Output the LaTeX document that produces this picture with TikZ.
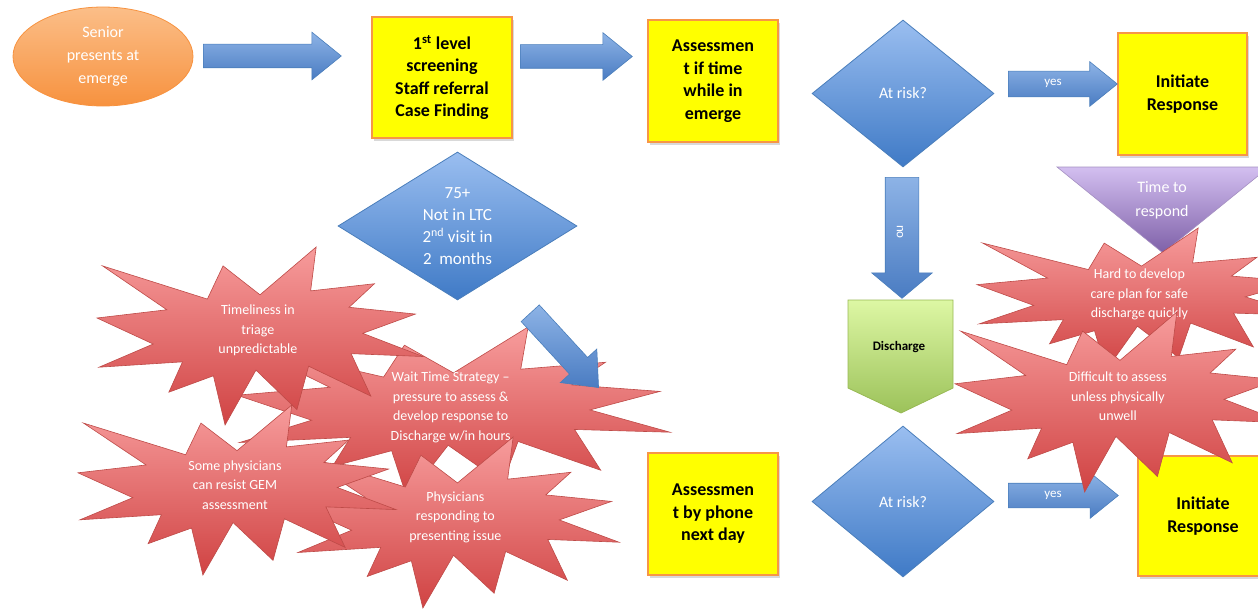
\documentclass[tikz,border=0pt]{standalone}
\usepackage{fontspec}
\setmainfont{Carlito}
\usetikzlibrary{shapes.geometric,shapes.arrows,shadows,calc}
\definecolor{boxorange}{HTML}{F79646}
\definecolor{boxyellow}{HTML}{FFFF00}
\definecolor{diatop}{HTML}{9ABEF0}
\definecolor{diabot}{HTML}{3F7AC6}
\definecolor{diaedge}{HTML}{4A7EBB}
\definecolor{arrtop}{HTML}{8DB3E6}
\definecolor{arrbot}{HTML}{4A7CC2}
\definecolor{ellTop}{HTML}{FBBE88}
\definecolor{ellBot}{HTML}{F7923F}
\definecolor{stTop}{HTML}{F79C9C}
\definecolor{stBot}{HTML}{D04343}
\definecolor{stEdge}{HTML}{BE4B48}
\definecolor{puTop}{HTML}{D3BFF0}
\definecolor{puBot}{HTML}{7E60A8}
\definecolor{grTop}{HTML}{DDF7A4}
\definecolor{grBot}{HTML}{9CC25A}
\definecolor{grEdge}{HTML}{98B954}
\newcommand\sealshape[6]{%
\begin{scope}[shift={(#2,#3)},xscale=#4/216,yscale=#5/216]
\path[seal] (108,58) -- (145.22,0) -- (141.55,53.25) -- (183.80,44.57) -- (167.02,73.15) -- (210.97,81.37) -- (176.07,104.75) -- (216,132.90) -- (168.37,129.42) -- (181.45,180.95) -- (140.20,144.57) -- (132.47,197.37) -- (105.32,149.35) -- (84.85,216) -- (77.15,156.27) -- (47.62,176.17) -- (56.67,139.37) -- (1.35,145.87) -- (37.22,117.75) -- (0,86.15) -- (46.27,76.17) -- (3.70,22.95) -- (73.12,63.20) -- (83.52,22.95) -- cycle;
\node[sealtext] (#1) at (106.6,101.3) {#6};
\end{scope}}
\begin{document}
\begin{tikzpicture}[x=1pt,y=-1pt,
  ybox/.style={draw=boxorange, line width=1.5pt, fill=boxyellow, align=center, inner sep=0pt,
    font=\fontsize{18}{22.5}\selectfont\bfseries,
    drop shadow={opacity=0.3, shadow xshift=2pt, shadow yshift=-3pt}},
  dia/.style={diamond, draw=diaedge, line width=0.8pt, top color=diatop, bottom color=diabot,
    text=white, align=center, inner sep=0pt, font=\fontsize{17}{22}\selectfont},
  barrow/.style={single arrow, anchor=tail, draw=diaedge, line width=0.6pt, top color=arrtop, bottom color=arrbot,
    inner xsep=0pt, minimum width=0pt},
  seal/.style={draw=stEdge, line width=0.6pt, top color=stTop, bottom color=stBot},
  sealtext/.style={text=white, align=center, inner sep=0pt, font=\fontsize{14}{19.5}\selectfont},
  wtext/.style={text=white, align=center, inner sep=0pt},
  alabel/.style={text=white, inner sep=0pt, font=\fontsize{13}{15}\selectfont}]
\useasboundingbox (0,0) rectangle (1258,610);
\clip (0,0) rectangle (1258,610);

% start
\node[ellipse, minimum width=180pt, minimum height=99pt, draw=ellBot, line width=0.8pt,
  top color=ellTop, bottom color=ellBot, text=white, align=center, inner sep=0pt,
  font=\fontsize{16}{23}\selectfont] (senior) at (103,56.5) {Senior\\presents at\\emerge};

% boxes
\node[ybox, minimum width=140pt, minimum height=121pt] (screen) at (442,77.5)
  {1\textsuperscript{st} level\\screening\\Staff referral\\Case Finding};
\node[ybox, minimum width=130pt, minimum height=122pt] (assess1) at (713,81)
  {Assessmen\\t if time\\while in\\emerge};
\node[ybox, minimum width=129pt, minimum height=122pt] (init1) at (1182.5,94)
  {Initiate\\Response};
\node[ybox, minimum width=130pt, minimum height=122pt] (assess2) at (713,514)
  {Assessmen\\t by phone\\next day};
\node[ybox, minimum width=130pt, minimum height=120pt] (init2) at (1203,516)
  {Initiate\\Response};

% diamonds
\node[dia, minimum width=182pt, minimum height=147pt, font=\fontsize{16}{20}\selectfont] (risk1) at (903,93.5) {At risk?};
\node[dia, minimum width=182pt, minimum height=151pt, font=\fontsize{16}{20}\selectfont] (risk2) at (903,501.5) {At risk?};
\node[dia, minimum width=239pt, minimum height=148pt] (crit) at (457.5,226)
  {75+\\Not in LTC\\2\textsuperscript{nd} visit in\\2\ \ months};

% time to respond (purple triangle)
\path[draw=puBot!70, line width=0.6pt, top color=puTop, bottom color=puBot]
  (1057,167) -- (1269,167) -- (1163,253) -- cycle;
\node[wtext, font=\fontsize{16}{24}\selectfont] (time) at (1162,200) {Time to\\respond};

% discharge (green pentagon)
\path[draw=grEdge, line width=0.8pt, top color=grTop, bottom color=grBot]
  (848,300) -- (953,300) -- (953,388) -- (901,413) -- (848,388) -- cycle;
\node[inner sep=0pt, font=\fontsize{13}{15}\selectfont\bfseries] (dis) at (899,347) {Discharge};

% block arrows
\node[barrow, minimum height=138pt, inner ysep=11.5pt, single arrow head extend=12pt,
  single arrow tip angle=78] (a1) at (203,56) {};
\node[barrow, minimum height=112pt, inner ysep=11.5pt, single arrow head extend=12pt,
  single arrow tip angle=78] (a2) at (520,56.5) {};
\node[barrow, minimum height=109pt, inner ysep=12.5pt, single arrow head extend=9.5pt,
  single arrow tip angle=78] (a3) at (1008,84) {};
\node[alabel] (yes1) at (1053,83) {yes};
\node[barrow, minimum height=110pt, inner ysep=12pt, single arrow head extend=10.5pt,
  single arrow tip angle=78] (a4) at (1008,495.5) {};
\node[alabel] (yes2) at (1053,495) {yes};
\node[barrow, rotate=-90, minimum height=121pt, inner ysep=16.5pt, single arrow head extend=13.5pt,
  single arrow tip angle=100] (a5) at (902,177) {};
\node[alabel, rotate=-90] (no) at (900,232) {no};

% problem stars, left
\sealshape{s2}{237}{327}{433}{171}{Wait Time Strategy --\\pressure to assess \&\\develop response to\\Discharge w/in hours}
\sealshape{s1}{97}{247}{326}{178}{Timeliness in\\triage\\unpredictable}
\sealshape{s4}{296}{437}{323}{171}{Physicians\\responding to\\presenting issue}
\sealshape{s3}{78}{405}{318}{170}{Some physicians\\can resist GEM\\assessment}

\node[barrow, rotate=-47.4, minimum height=101pt, inner ysep=12pt, single arrow head extend=12.5pt,
  single arrow tip angle=80] (a6) at (530,313) {};

% problem stars, right
\sealshape{s5}{977}{228}{329}{142}{Hard to develop\\care plan for safe\\discharge quickly}
\sealshape{s6}{955}{312}{330}{180}{Difficult to assess\\unless physically\\unwell}
\end{tikzpicture}
\end{document}
